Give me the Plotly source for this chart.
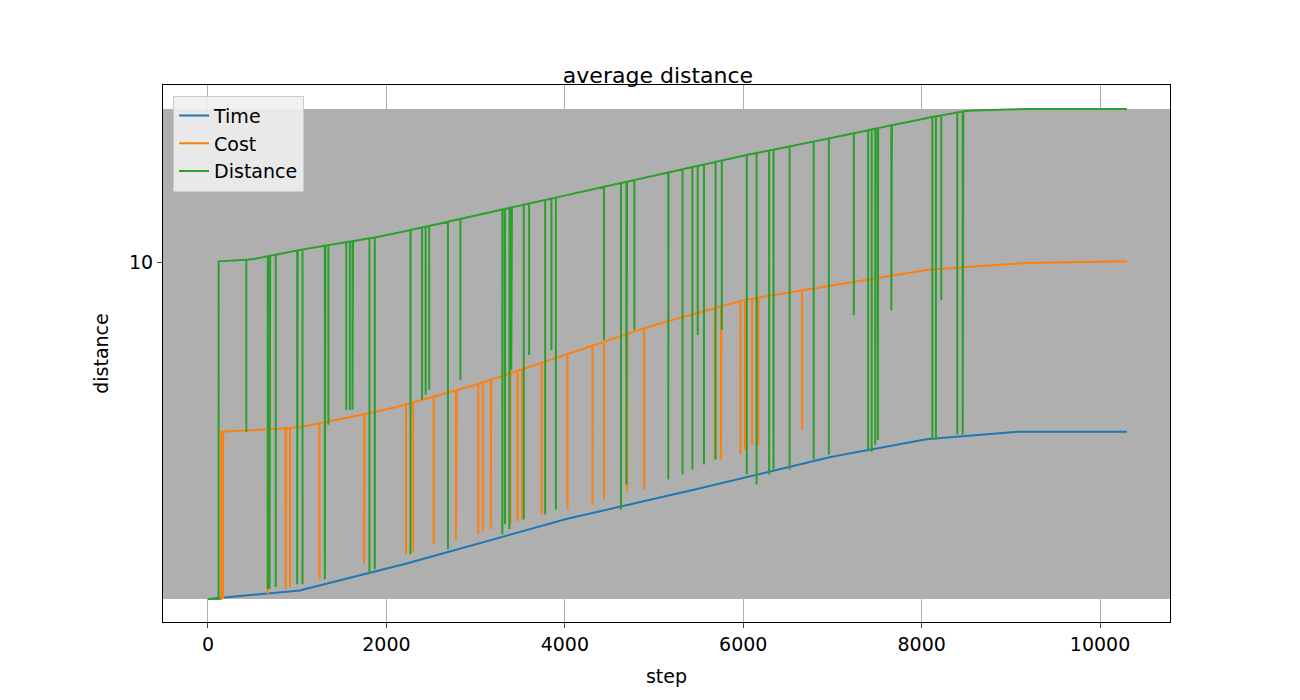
import numpy as np
import plotly.graph_objects as go

# base curves (step, value)
time_steps = [0, 1000, 2000, 3000, 4000, 5000, 6000, 7000, 8000, 9000, 10300]
time_vals = [0, 8, 30, 55, 80, 100, 122, 143, 160, 168, 168]

cost_steps = [0, 149, 150, 1000, 2000, 3000, 4000, 5000, 6000, 7000, 8000, 9000, 10300]
cost_vals = [0, 0, 168, 172, 190, 215, 245, 275, 300, 315, 330, 337, 339]

dist_steps = [0, 119, 120, 500, 1000, 2000, 3000, 4000, 5000, 6000, 7000, 8000, 8500, 9000, 10300]
dist_vals = [0, 0, 339, 341, 350, 365, 385, 405, 425, 445, 463, 482, 490, 492, 492]

# dips (step, bottom value)
cost_dip_steps = [170, 670, 870, 920, 1250, 1750, 2220, 2300, 2530, 2780, 3030, 3080, 3170,
                  3390, 3470, 3520, 3740, 4030, 4310, 4440, 4700, 4890, 5680, 5750, 5970,
                  6020, 6100, 6170, 6660]
cost_dip_vals = [0, 5, 10, 12, 20, 35, 45, 48, 55, 60, 65, 67, 70, 75, 78, 80, 85, 90, 95,
                 100, 108, 110, 140, 140, 145, 150, 155, 155, 170]

dist_dip_steps = [430, 670, 690, 760, 1000, 1060, 1310, 1350, 1550, 1590, 1620, 1810, 1870,
                  2270, 2400, 2440, 2480, 2690, 2830, 3300, 3330, 3380, 3400, 3540, 3600,
                  3780, 3850, 3900, 4440, 4630, 4690, 4780, 5160, 5320, 5430, 5490, 5560,
                  5690, 5760, 6040, 6150, 6290, 6340, 6520, 6790, 6960, 7240, 7400, 7440,
                  7480, 7510, 7660, 8120, 8160, 8220, 8400, 8460]
dist_dip_vals = [168, 10, 10, 12, 15, 15, 20, 175, 190, 190, 190, 25, 30, 45, 200, 205, 210,
                 50, 220, 65, 75, 70, 230, 80, 245, 85, 250, 90, 260, 90, 115, 270, 120,
                 125, 130, 265, 135, 140, 270, 125, 115, 125, 130, 130, 140, 145, 285, 150,
                 148, 155, 160, 290, 160, 160, 300, 165, 165]


def series(steps, vals, dips, bottoms):
    xs = set(np.linspace(0, 10300, 400).tolist()) | set(steps) | set(dips)
    xs = sorted(xs)
    out_x, out_y = [], []
    dip_map = dict(zip(dips, bottoms))
    for s in xs:
        v = float(np.interp(s, steps, vals))
        out_x.append(s)
        out_y.append(v)
        if s in dip_map:
            out_x += [s, s]
            out_y += [dip_map[s], v]
    return out_x, out_y


fig = go.Figure()
fig.add_shape(type="rect", xref="paper", yref="y", x0=0, x1=1, y0=0, y1=492,
              fillcolor="#afafaf", line_width=0, layer="below")

tx, ty = series(time_steps, time_vals, [], [])
cx, cy = series(cost_steps, cost_vals, cost_dip_steps, cost_dip_vals)
dx, dy = series(dist_steps, dist_vals, dist_dip_steps, dist_dip_vals)
fig.add_trace(go.Scatter(x=tx, y=ty, mode="lines", name="Time", line=dict(color="#1f77b4", width=2)))
fig.add_trace(go.Scatter(x=cx, y=cy, mode="lines", name="Cost", line=dict(color="#ff7f0e", width=2)))
fig.add_trace(go.Scatter(x=dx, y=dy, mode="lines", name="Distance", line=dict(color="#2ca02c", width=2)))

fig.update_layout(
    width=1300, height=700,
    margin=dict(l=155, r=138, t=77, b=86),
    paper_bgcolor="white", plot_bgcolor="white",
    font=dict(family="DejaVu Sans", size=19, color="black"),
    title=dict(text="average distance", x=0.5, xanchor="center", y=0.915, font=dict(size=22)),
    legend=dict(x=0.01, y=0.98, bgcolor="rgba(240,240,240,0.9)", bordercolor="#cccccc",
                borderwidth=1, font=dict(size=19)),
    xaxis=dict(title=dict(text="step", font=dict(size=19)), range=[-504, 10784],
               tickvals=[0, 2000, 4000, 6000, 8000, 10000],
               ticktext=["0", "2000", "4000", "6000", "8000", "10000"],
               showgrid=True, gridcolor="#b0b0b0",
               showline=True, linecolor="black", mirror=True, ticks="outside", zeroline=False),
    yaxis=dict(title=dict(text="distance", font=dict(size=19)), range=[-23, 516],
               tickvals=[338], ticktext=["10"], showgrid=True, gridcolor="#b0b0b0",
               showline=True, linecolor="black", mirror=True, ticks="outside", zeroline=False),
)
fig.write_html("out.html")
